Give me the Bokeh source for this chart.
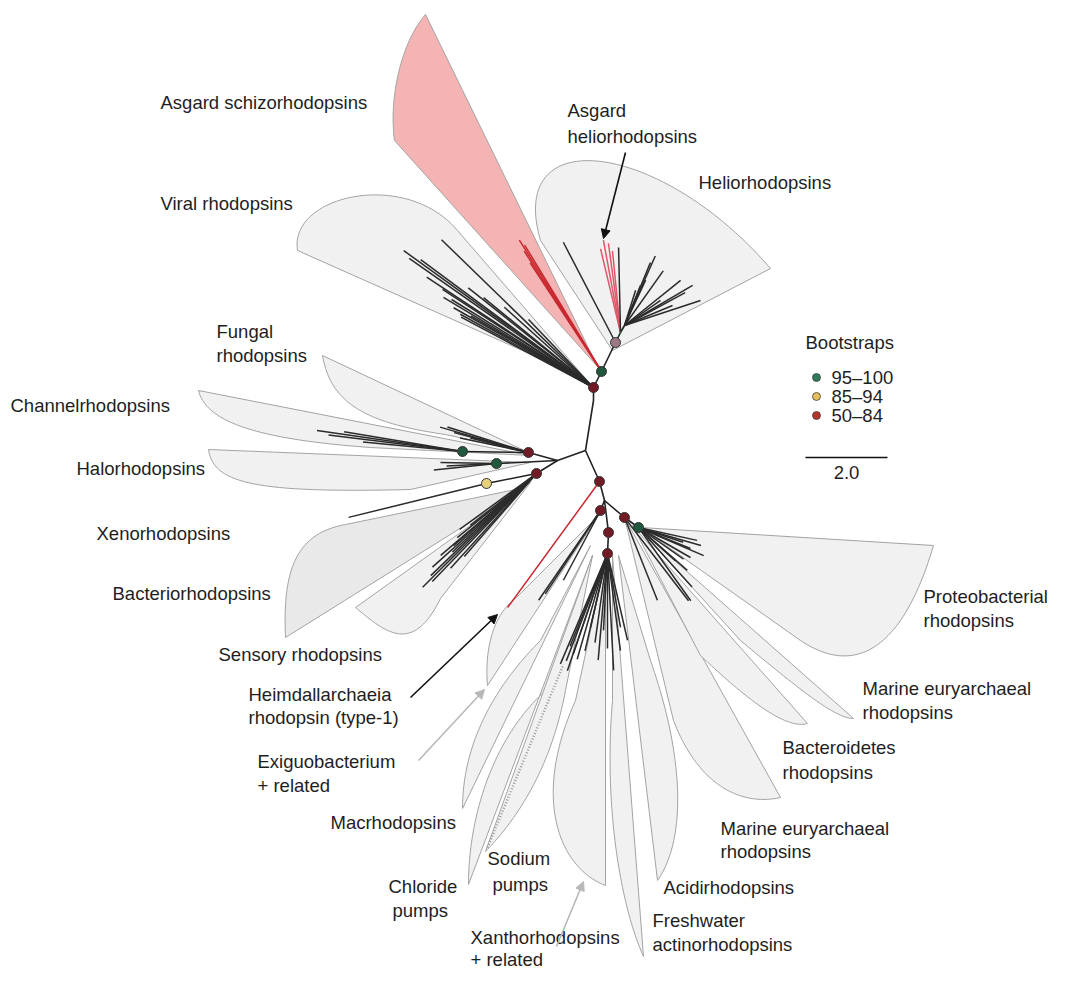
import numpy as np
from bokeh.plotting import figure
from bokeh.models import Range1d, Arrow, NormalHead
from bokeh.embed import file_html
from bokeh.resources import INLINE
from bokeh.core.properties import value

# ---------------- data ----------------
# internal nodes of the unrooted tree (layout positions)
NODES = {
    "root": (585, 450), "up1": (593, 400), "viral": (593, 387), "schizo": (601, 371),
    "helio": (615, 342), "helio2": (620, 332), "helio3": (624, 325),
    "left": (557, 460), "fungal": (528, 452), "channel": (462, 451), "halo": (496, 463),
    "bact": (536, 473), "xeno": (486, 483),
    "low": (599, 481), "low2": (604, 500), "exig": (600, 510), "mid1": (624, 517),
    "proteo": (638, 527), "pump1": (608, 532), "pump2": (607, 553),
}
BACKBONE = [
    ["root", "up1", "viral", "schizo", "helio", "helio2", "helio3"],
    ["root", "left", "fungal", "channel"],
    ["left", "halo"],
    ["left", "bact", "xeno"],
    ["root", "low", "low2", "exig"],
    ["low2", "mid1", "proteo"],
    ["low2", "pump1", "pump2"],
]
# bootstrap support at nodes: 0 = 95-100, 1 = 85-94, 2 = 50-84, 3 = other
BOOT_NODES = ["viral", "schizo", "helio", "fungal", "channel", "halo", "xeno", "bact",
              "low", "exig", "mid1", "proteo", "pump1", "pump2"]
BOOT_CLASS = [2, 0, 3, 2, 0, 0, 1, 2, 2, 2, 2, 0, 2, 2]

# clade outlines: apex, end of straight edge, two bezier controls, end of curved edge
CLADES = ["Asgard schizorhodopsins", "Viral rhodopsins", "Heliorhodopsins", "Fungal rhodopsins",
          "Channelrhodopsins", "Halorhodopsins", "Bacteriorhodopsins", "Sensory rhodopsins",
          "Exiguobacterium", "Macrhodopsins", "Chloride pumps", "Sodium pumps",
          "Xanthorhodopsins", "Freshwater actinorhodopsins", "Acidirhodopsins",
          "Marine euryarchaeal (2)", "Bacteroidetes rhodopsins", "Marine euryarchaeal (1)",
          "Proteobacterial rhodopsins"]
CLADE_APEX = [(597, 366), (585, 378), (612, 350), (528, 452), (530, 455), (530, 462), (525, 487),
              (530, 482), (598, 515), (590, 545), (592, 555), (592, 555), (605, 560), (612, 555),
              (618, 555), (624, 517), (632, 525), (640, 530), (640, 527)]
CLADE_EDGE = [(425, 14), (297, 250), (770, 268), (322, 355), (198, 390), (208, 449), (285, 637),
              (355, 607), (487, 685), (462, 808), (468, 884), (485, 851), (605, 885), (643, 956),
              (657, 880), (780, 797), (807, 723), (853, 718), (933, 545)]
CLADE_C1 = [(402, 40), (288, 195), (660, 140), (330, 400), (205, 418), (213, 482), (282, 570),
            (385, 632), (484, 650), (462, 760), (468, 820), (515, 820), (560, 868), (620, 905),
            (685, 840), (745, 805), (790, 728), (835, 718), (905, 640)]
CLADE_C2 = [(388, 95), (405, 168), (505, 120), (360, 422), (245, 438), (250, 493), (295, 533),
            (412, 655), (492, 615), (480, 700), (490, 740), (550, 770), (530, 800), (603, 805),
            (685, 760), (700, 790), (760, 712), (800, 690), (860, 680)]
CLADE_END = [(394, 140), (457, 230), (540, 240), (445, 434), (370, 447), (410, 489), (345, 524),
             (440, 598), (515, 598), (540, 640), (545, 690), (565, 690), (575, 700), (612, 700),
             (650, 660), (673, 720), (700, 655), (740, 640), (800, 640)]
CLADE_KIND = [1, 0, 0, 0, 0, 0, 2, 0, 0, 0, 0, 0, 0, 0, 0, 0, 0, 0, 0]  # 1 = Asgard, 2 = darker

# branch fans: origin node, leaf angles (deg, anticlockwise from east) and branch lengths
FAN_NODE = ["viral", "schizo", "helio", "helio2", "helio2", "helio3", "fungal", "channel",
            "halo", "xeno", "bact", "low", "exig", "pump2", "mid1", "proteo"]
FAN_ANGLE = [
    [144.2, 135.8, 148.2, 150.3, 151.2, 149.7, 140.7, 133.7, 145.0, 143.5, 146.5, 147.0, 149.0,
     152.0, 141.5, 138.0],
    [122.0, 122.7, 121.3, 123.3],
    [117.5],
    [103.4, 100.5, 97.7, 95.6],
    [91.3],
    [54.7, 38.8, 18.2, 67.6, 68.2, 22.6, 66.1, 28.4, 30.5, 72.5, 65.0, 35.0],
    [164.0, 165.0, 168.0, 162.5, 166.0],
    [171.8, 173.0, 170.5, 174.5],
    [179.0, 186.0, 183.0],
    [193.8],
    [225.0, 227.8, 219.0, 218.0, 220.5, 224.0, 222.0, 226.0, 223.0, 229.0, 216.0, 221.0],
    [233.9],
    [235.4, 236.5, 242.0],
    [246.9, 251.1, 251.2, 257.0, 267.0, 273.0, 283.0, 257.0, 265.0, 277.6, 249.0, 254.0, 262.0,
     270.0, 280.0, 248.0],
    [291.7, 307.6],
    [347.6, 336.7, 318.7, 305.5, 341.6, 338.0, 318.0, 344.0, 330.0, 325.0, 312.0],
]
FAN_LENGTH = [
    [234, 212, 167, 161, 152, 142, 142, 94, 225, 215, 200, 180, 175, 150, 160, 120],
    [155, 143, 148, 130],
    [113],
    [86, 94, 90, 82],
    [85],
    [67, 72, 80, 68, 43, 52, 76, 69, 79, 37, 50, 44],
    [92, 77, 70, 85, 60],
    [147, 135, 120, 100],
    [56, 63, 50],
    [142],
    [161, 128, 102, 84, 126, 147, 140, 150, 115, 110, 95, 110],
    [156],
    [109, 100, 79],
    [120, 124, 106, 76, 77, 117, 89, 100, 107, 98, 115, 110, 90, 95, 75, 100],
    [89, 105],
    [60, 71, 65, 90, 47, 56, 50, 65, 60, 55, 80],
]
FAN_COLOR = ["#2b2b2b", "#c8282e", "#2b2b2b", "#e0566a", "#2b2b2b", "#2b2b2b", "#2b2b2b",
             "#2b2b2b", "#2b2b2b", "#2b2b2b", "#2b2b2b", "#c8282e", "#2b2b2b", "#2b2b2b",
             "#2b2b2b", "#2b2b2b"]

LEGEND_TITLE = "Bootstraps"
LEGEND_LABELS = ["95\u2013100", "85\u201394", "50\u201384"]
LEGEND_COLORS = ["#2f7a58", "#e2bf58", "#b5352b"]
NODE_COLORS = ["#21573c", "#e6d27c", "#731b24", "#9a7886"]
SCALE_LABEL = "2.0"

LABELS = [
    ("Asgard schizorhodopsins", 160, 102), ("Asgard", 567, 110), ("heliorhodopsins", 567, 136),
    ("Heliorhodopsins", 698, 182), ("Viral rhodopsins", 160, 203),
    ("Fungal", 216, 331), ("rhodopsins", 216, 355), ("Channelrhodopsins", 10, 405),
    ("Halorhodopsins", 76, 468), ("Xenorhodopsins", 96, 533), ("Bacteriorhodopsins", 112, 593),
    ("Sensory rhodopsins", 218, 654), ("Heimdallarchaeia", 248, 694),
    ("rhodopsin (type-1)", 248, 717), ("Exiguobacterium", 257, 761), ("+ related", 257, 785),
    ("Macrhodopsins", 330, 822), ("Chloride", 388, 886), ("pumps", 392, 910),
    ("Sodium", 487, 858), ("pumps", 492, 884), ("Xanthorhodopsins", 470, 937),
    ("+ related", 470, 959), ("Freshwater", 652, 920), ("actinorhodopsins", 652, 944),
    ("Acidirhodopsins", 663, 887), ("Marine euryarchaeal", 720, 828), ("rhodopsins", 720, 851),
    ("Bacteroidetes", 782, 747), ("rhodopsins", 782, 772), ("Marine euryarchaeal", 862, 688),
    ("rhodopsins", 862, 712), ("Proteobacterial", 923, 596), ("rhodopsins", 923, 620),
]
# annotation arrows: start, end, colour
ARROWS = [((625, 152), (603, 238), "#111111"), ((410, 697), (497, 614), "#111111"),
          ((418, 760), (484, 689), "#b8b8b8"), ((556, 946), (583, 881), "#b8b8b8")]

# ---------------- drawing ----------------
p = figure(width=1049, height=971, x_range=Range1d(0, 1049), y_range=Range1d(971, 0),
           output_backend="svg", toolbar_location=None, min_border=0,
           x_axis_location=None, y_axis_location=None)
p.grid.visible = False
p.outline_line_color = None
p.background_fill_color = "white"


def bez(p0, c1, c2, p1, n=50):
    t = np.linspace(0, 1, n)
    a, b, c, d = (1 - t) ** 3, 3 * (1 - t) ** 2 * t, 3 * (1 - t) * t ** 2, t ** 3
    return (a * p0[0] + b * c1[0] + c * c2[0] + d * p1[0],
            a * p0[1] + b * c1[1] + c * c2[1] + d * p1[1])


xs, ys, fills = [], [], []
for A, P1, C1, C2, P2, k in zip(CLADE_APEX, CLADE_EDGE, CLADE_C1, CLADE_C2, CLADE_END, CLADE_KIND):
    bx, by = bez(P1, C1, C2, P2)
    xs.append([A[0], P1[0]] + list(bx) + [A[0]])
    ys.append([A[1], P1[1]] + list(by) + [A[1]])
    fills.append({0: "#f1f1f1", 1: "#f4b4b4", 2: "#e9e9e9"}[k])
p.patches(xs, ys, fill_color=fills, line_color="#a3a3a3", line_width=1)

# hatched edge of sodium pumps
p.line([487, 563], [847, 664], line_color="#9a9a9a", line_width=2.5, line_dash="1 2")

# backbone
bx_, by_ = [], []
for path in BACKBONE:
    bx_.append([NODES[n][0] for n in path])
    by_.append([NODES[n][1] for n in path])
p.multi_line(bx_, by_, line_color="#222222", line_width=1.6)

# fans
fx, fy, fc = [], [], []
for node, angs, lens, col in zip(FAN_NODE, FAN_ANGLE, FAN_LENGTH, FAN_COLOR):
    x0, y0 = NODES[node]
    for a, L in zip(angs, lens):
        r = np.radians(a)
        fx.append([x0, x0 + L * np.cos(r)])
        fy.append([y0, y0 - L * np.sin(r)])
        fc.append(col)
p.multi_line(fx, fy, line_color=fc, line_width=1.5)

# bootstrap dots
p.scatter([NODES[n][0] for n in BOOT_NODES], [NODES[n][1] for n in BOOT_NODES], size=10,
          fill_color=[NODE_COLORS[c] for c in BOOT_CLASS], line_color="#333333", line_width=1)

# arrows
for (s, e, col) in ARROWS:
    p.add_layout(Arrow(end=NormalHead(size=9, fill_color=col, line_color=col),
                       x_start=s[0], y_start=s[1], x_end=e[0], y_end=e[1],
                       line_color=col, line_width=1.6))

FONT = value("Liberation Sans")
FS = "18.5px"
p.text([l[1] for l in LABELS], [l[2] for l in LABELS], text=[l[0] for l in LABELS],
       text_font=FONT, text_font_size=FS, text_baseline="middle", text_align="left",
       text_color="#1e1e1e")

# legend
p.text([805], [342], text=[LEGEND_TITLE], text_font=FONT, text_font_size=FS,
       text_baseline="middle", text_color="#1e1e1e")
ly = [377, 396, 415]
p.scatter([816] * 3, ly, size=8, fill_color=LEGEND_COLORS, line_color="#444444", line_width=0.8)
p.text([831] * 3, ly, text=LEGEND_LABELS, text_font=FONT, text_font_size=FS,
       text_baseline="middle", text_color="#1e1e1e")
p.line([805, 887], [457, 457], line_color="#111111", line_width=1.6)
p.text([846], [472], text=[SCALE_LABEL], text_font=FONT, text_font_size=FS,
       text_baseline="middle", text_align="center", text_color="#1e1e1e")

open("out.html", "w").write(file_html(p, INLINE))
